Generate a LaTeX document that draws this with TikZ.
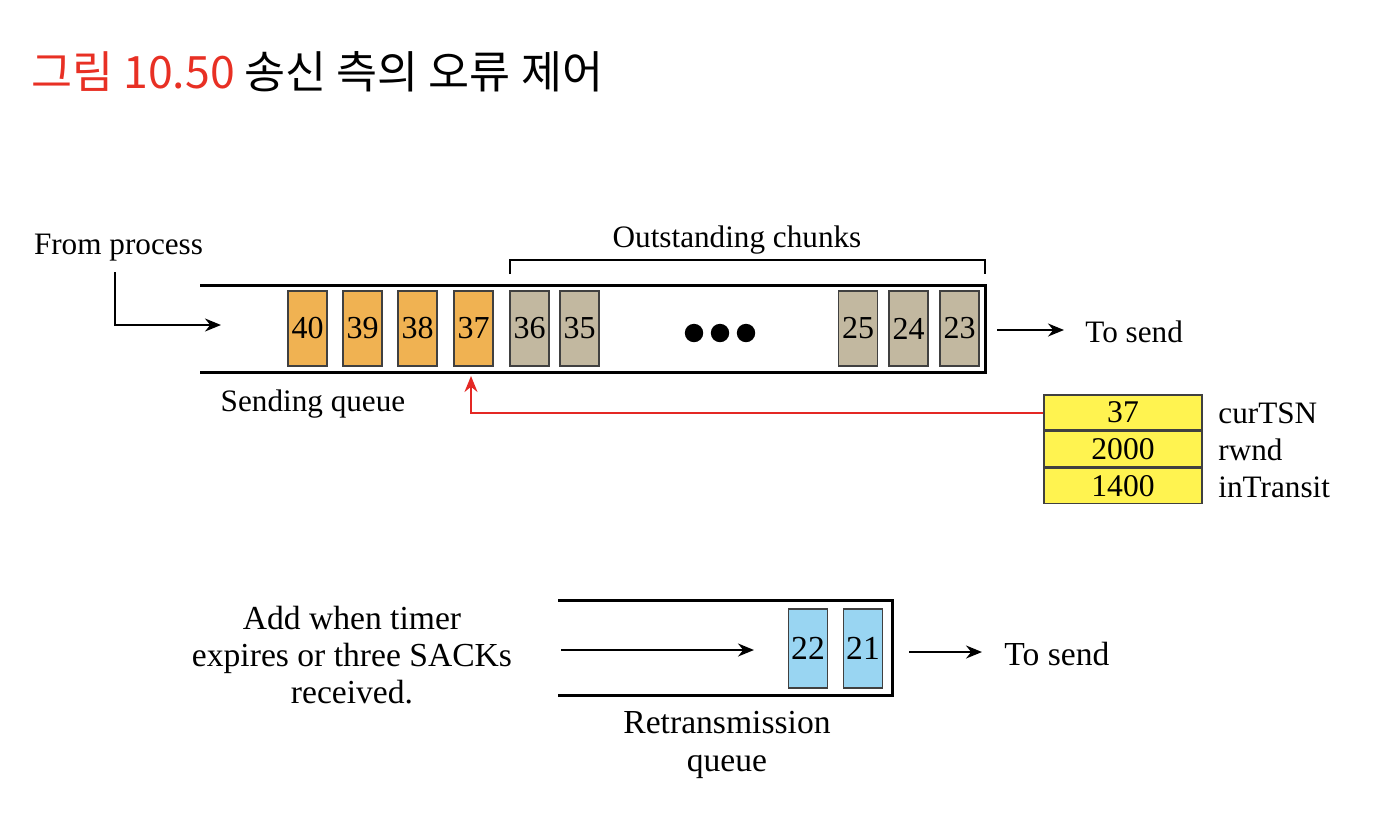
\documentclass[tikz,border=0pt]{standalone}
\usepackage{fontspec}
\setmainfont{Liberation Serif}
\newfontfamily\krfont{Noto Sans CJK KR}
\usetikzlibrary{arrows.meta,positioning}
\definecolor{chorange}{RGB}{240,178,82}
\definecolor{chgray}{RGB}{194,184,160}
\definecolor{chblue}{RGB}{153,213,242}
\definecolor{tyellow}{RGB}{255,243,80}
\definecolor{tred}{RGB}{228,40,36}
\definecolor{figred}{RGB}{232,48,36}
\begin{document}
\begin{tikzpicture}[x=0.5pt,y=-0.5pt,
  lbl/.style={font=\fontsize{15.6}{18.5}\selectfont, inner sep=0pt},
  blbl/.style={font=\fontsize{16.8}{18.7}\selectfont, inner sep=0pt},
  chunk/.style={draw=black!75, line width=0.7pt, minimum width=19.5pt, minimum height=37.5pt, inner sep=0pt, font=\fontsize{16}{18}\selectfont},
  orch/.style={chunk, fill=chorange},
  grch/.style={chunk, fill=chgray},
  blch/.style={chunk, fill=chblue},
  tcell/.style={draw=black!75, line width=0.7pt, fill=tyellow, minimum width=79pt, minimum height=17.6pt, inner sep=0pt, font=\fontsize{15.8}{18}\selectfont},
  qline/.style={line width=1.5pt},
  arr/.style={line width=1pt, -{Stealth[length=8pt,width=6.5pt]}}]
\useasboundingbox (0,0) rectangle (1392,820);
% title
\node[anchor=west, inner sep=0pt, font=\krfont\fontsize{22.3}{26}\selectfont] (title) at (31,72) {\textcolor{figred}{그림 10.50} 송신 측의 오류 제어};
% sending queue
\draw[qline] (200,285) -- (985,285) -- (985,372) -- (200,372);
\node[orch] (c40) at (307.5,328.5) {40};
\node[orch] (c39) at (362.5,328.5) {39};
\node[orch] (c38) at (417.5,328.5) {38};
\node[orch] (c37) at (473.5,328.5) {37};
\node[grch] (c36) at (529.5,328.5) {36};
\node[grch] (c35) at (579.5,328.5) {35};
\node[grch] (c25) at (858,328.5) {25};
\node[grch] (c24) at (908.5,328.5) {24};
\node[grch] (c23) at (959.5,328.5) {23};
\fill (694,333) circle (4.6pt) (720,333) circle (4.6pt) (746,333) circle (4.6pt);
% outstanding bracket
\coordinate (bl) at (510,274);
\coordinate (br) at (985,274);
\draw[line width=0.7pt] (bl) -- ++(0,-14) -| (br);
\node[lbl] (outst) at (737,240) {Outstanding chunks};
% from process
\node[lbl] (fromp) at (118.5,248) {From process};
\coordinate (fpstart) at (115,272);
\coordinate (sqin) at (221,325);
\draw[arr] (fpstart) |- (sqin);
\node[lbl] (sq) at (313,404) {Sending queue};
% to send (top)
\coordinate (ts1a) at (997,330);
\coordinate (ts1b) at (1064,330);
\draw[arr] (ts1a) -- (ts1b);
\node[lbl, anchor=west] (tosend1) at (1085,332) {To send};
% table
\node[tcell] (t1) at (1123,412.5) {37};
\node[tcell, below=0pt of t1] (t2) {2000};
\node[tcell, below=0pt of t2] (t3) {1400};
\node[lbl, anchor=west] (l1) at (1218,413) {curTSN};
\node[lbl, anchor=west] (l2) at (1218,450) {rwnd};
\node[lbl, anchor=west] (l3) at (1218,487) {inTransit};
% red arrow
\coordinate (redend) at (471,376);
\draw[tred, line width=1pt, -{Stealth[length=8pt,width=6.5pt]}] (t1.west) -| (redend);
% retransmission queue
\draw[qline] (558,600) -- (892,600) -- (892,695) -- (558,695);
\node[blch, minimum height=39.5pt, font=\fontsize{16.8}{18}\selectfont] (c22) at (808,648.5) {22};
\node[blch, minimum height=39.5pt, font=\fontsize{16.8}{18}\selectfont] (c21) at (863,648.5) {21};
\node[blbl, align=center] (addw) at (352,655) {Add when timer\\expires or three SACKs\\received.};
\coordinate (rqa) at (561,650);
\coordinate (rqb) at (754,650);
\draw[arr] (rqa) -- (rqb);
\coordinate (ts2a) at (909,652);
\coordinate (ts2b) at (982,652);
\draw[arr] (ts2a) -- (ts2b);
\node[blbl, anchor=west] (tosend2) at (1004,654) {To send};
\node[blbl, align=center] (rq) at (727,745) {Retransmission\\queue};
\end{tikzpicture}
\end{document}
